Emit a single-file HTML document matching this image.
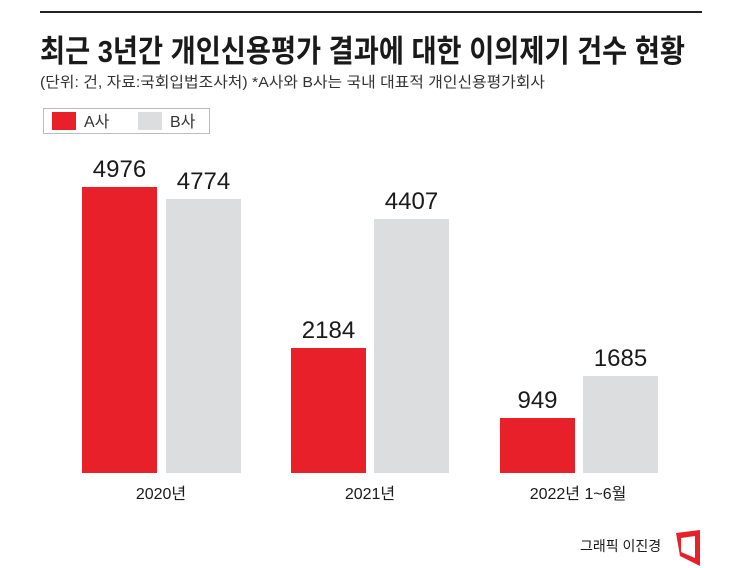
<!DOCTYPE html>
<html><head><meta charset="utf-8"><style>
html,body{margin:0;padding:0;background:#fff;}
svg{display:block;}
text{font-family:"Liberation Sans","Noto Sans CJK KR",sans-serif;}
</style></head><body>
<svg width="745" height="568" viewBox="0 0 745 568" xmlns="http://www.w3.org/2000/svg">
<rect width="745" height="568" fill="#fff"/>
<line x1="40" y1="12" x2="702" y2="12" stroke="#222" stroke-width="2"/>
<text x="40" y="62" font-size="31" font-weight="bold" fill="#1a1a1a" textLength="645" lengthAdjust="spacingAndGlyphs">최근 3년간 개인신용평가 결과에 대한 이의제기 건수 현황</text>
<text x="40" y="87" font-size="15" fill="#333" textLength="505" lengthAdjust="spacingAndGlyphs">(단위: 건, 자료:국회입법조사처)  *A사와 B사는 국내 대표적 개인신용평가회사</text>
<rect x="43.5" y="108.5" width="166" height="25" fill="#fff" stroke="#bbb"/>
<rect x="52" y="112" width="24" height="18" fill="#e8202a"/>
<text x="84" y="127" font-size="16" fill="#333">A사</text>
<rect x="138" y="112" width="24" height="18" fill="#dcdddf"/>
<text x="170" y="127" font-size="16" fill="#333">B사</text>
<g fill="#e8202a">
<rect x="82" y="187" width="75" height="286"/>
<rect x="291" y="348" width="75" height="125"/>
<rect x="500" y="418" width="75" height="55"/>
</g>
<g fill="#dcdddf">
<rect x="166" y="199" width="75" height="274"/>
<rect x="374" y="219" width="75" height="254"/>
<rect x="583" y="376" width="75" height="97"/>
</g>
<g font-size="24" fill="#1a1a1a" text-anchor="middle">
<text x="119.5" y="177">4976</text>
<text x="203.5" y="189">4774</text>
<text x="328.5" y="338">2184</text>
<text x="411.5" y="209">4407</text>
<text x="537.5" y="408">949</text>
<text x="620.5" y="366">1685</text>
</g>
<g font-size="16" fill="#1a1a1a" text-anchor="middle">
<text x="161" y="499">2020년</text>
<text x="370" y="499">2021년</text>
<text x="578" y="499">2022년 1~6월</text>
</g>
<text x="580" y="551" font-size="14" fill="#1a1a1a">그래픽 이진경</text>
<path d="M676 533 L700 530 L700 566 L680 556 Z M681 538 L681 552 L695 558 L695 536 Z" fill="#e8202a" fill-rule="evenodd"/>
</svg>
</body></html>
